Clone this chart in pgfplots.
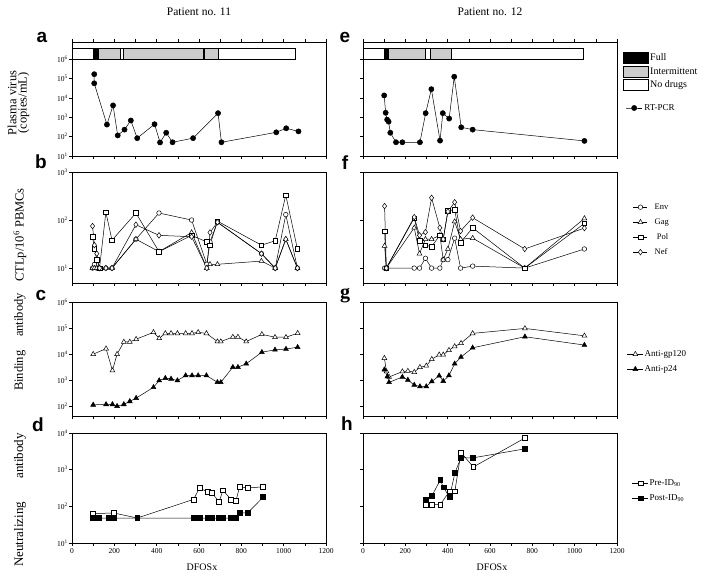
\documentclass[border=0pt]{standalone}
\usepackage{fontspec}
\setmainfont{Liberation Serif}
\newfontfamily\lettersf{Liberation Sans}
\usepackage{pgfplots}
\pgfplotsset{compat=1.18}
\pgfplotsset{
  mypanel/.style={scale only axis, width=254pt, xmin=0, xmax=1200,
    tick align=outside, xtick={0,100,...,1200}, xticklabels={}, xtick pos=bottom, ytick pos=left,
    yminorticks=false, xminorticks=false,
    axis line style={line width=0.6pt}, major tick length=3pt,
    every tick/.style={black, line width=0.5pt},
    yticklabel style={font=\fontsize{7.5}{8}\selectfont, inner sep=1pt},
    xticklabel style={font=\fontsize{7.5}{9}\selectfont, inner sep=2pt},
    clip=false, legend cell align=left,
  },
  myln/.style={color=black, line width=0.5pt},
  myenv/.style={myln, mark=*, mark size=2.3pt, mark options={fill=white, draw=black, line width=0.5pt}},
  mygag/.style={myln, mark=triangle*, mark size=2.8pt, mark options={fill=white, draw=black, line width=0.5pt}},
  mypol/.style={myln, mark=square*, mark size=2.3pt, mark options={fill=white, draw=black, line width=0.5pt}},
  mynef/.style={myln, mark=diamond*, mark size=2.8pt, mark options={fill=white, draw=black, line width=0.5pt}},
  myrt/.style={myln, mark=*, mark size=2.6pt, mark options={fill=black}},
  mygp/.style={myln, mark=triangle*, mark size=2.8pt, mark options={fill=white, draw=black, line width=0.5pt}},
  myp/.style={myln, mark=triangle*, mark size=2.8pt, mark options={fill=black}},
  mypre/.style={myln, mark=square*, mark size=2.4pt, mark options={fill=white, draw=black, line width=0.5pt}},
  mypost/.style={myln, mark=square*, mark size=2.4pt, mark options={fill=black}},
  myseg/.style={draw=black, line width=0.5pt, forget plot, mark=none},
}
\begin{document}
\begin{tikzpicture}[x=1pt,y=1pt]
\path[use as bounding box] (0,0) rectangle (707,585);

% titles and labels
\node[font=\fontsize{11.5}{13}\selectfont] at (199,573) {Patient no. 11};
\node[font=\fontsize{11.5}{13}\selectfont] at (490,573) {Patient no. 12};
\node[font=\fontsize{10}{12}\selectfont] at (202,18) {DFOSx};
\node[font=\fontsize{10}{12}\selectfont] at (492,18) {DFOSx};
\node[rotate=90, font=\fontsize{12.5}{14}\selectfont] at (12,482) {Plasma virus};
\node[rotate=90, font=\fontsize{12.5}{14}\selectfont] at (23.5,482) {(copies/mL)};
\node[rotate=90, font=\fontsize{12.5}{14}\selectfont] at (20,350) {CTLp/10\textsuperscript{6} PBMCs};
\node[rotate=90, font=\fontsize{12.5}{14}\selectfont] at (20,243) {Binding\hspace{1.1em}antibody};
\node[rotate=90, font=\fontsize{13}{14}\selectfont] at (20,85) {Neutralizing\hspace{1.8em}antibody};
\node[font=\lettersf\bfseries\fontsize{19}{19}\selectfont] at (42,548) {a};
\node[font=\lettersf\bfseries\fontsize{19}{19}\selectfont] at (41,423) {b};
\node[font=\lettersf\bfseries\fontsize{19}{19}\selectfont] at (41,290) {c};
\node[font=\lettersf\bfseries\fontsize{19}{19}\selectfont] at (38,160) {d};
\node[font=\lettersf\bfseries\fontsize{19}{19}\selectfont] at (345,548) {e};
\node[font=\lettersf\bfseries\fontsize{19}{19}\selectfont] at (345,422) {f};
\node[font=\bfseries\fontsize{20}{20}\selectfont] at (345,289) {g};
\node[font=\lettersf\bfseries\fontsize{19}{19}\selectfont] at (347,161) {h};

% ---------------- Panel a ----------------
\begin{axis}[mypanel, ymode=log, at={(72pt,429pt)}, anchor=south west, height=114pt,
  ymin=10, ymax=7.6e6, xtick pos=both,
  ytick={10,100,1000,10000,100000,1000000},
  yticklabels={10\textsuperscript{1},10\textsuperscript{2},10\textsuperscript{3},10\textsuperscript{4},10\textsuperscript{5},10\textsuperscript{6}},
  legend image code/.code={\draw[mark repeat=2,mark phase=2,#1] plot coordinates {(0pt,0pt) (8pt,0pt) (16pt,0pt)};},
  legend style={draw=none, fill=none, at={(2.18,0.421)}, anchor=west, inner sep=0pt,
    font=\fontsize{9}{10}\selectfont, nodes={inner sep=2pt}}]
\addplot[myseg, fill=white] coordinates {(0,1e6) (1057,1e6) (1057,3.7e6) (0,3.7e6) (0,1e6)};
\addplot[myseg, fill=black] coordinates {(101,1e6) (117,1e6) (117,3.7e6) (101,3.7e6) (101,1e6)};
\addplot[myseg, fill=gray!40] coordinates {(124,1e6) (226,1e6) (226,3.7e6) (124,3.7e6) (124,1e6)};
\addplot[myseg, fill=gray!40] coordinates {(242,1e6) (621,1e6) (621,3.7e6) (242,3.7e6) (242,1e6)};
\addplot[myseg, fill=gray!40] coordinates {(626,1e6) (692,1e6) (692,3.7e6) (626,3.7e6) (626,1e6)};
\addplot[myrt] coordinates {(105,166000) (105,56000) (165,417) (194,4070) (216,115) (248,229)
  (278,676) (308,83) (390,437) (416,50) (445,158) (475,51) (572,83) (690,1620) (706,51)
  (965,166) (1012,269) (1070,186)};
\addlegendentry{RT-PCR}
\end{axis}

% ---------------- Panel e ----------------
\begin{axis}[mypanel, ymode=log, at={(363pt,429pt)}, anchor=south west, height=114pt,
  ymin=10, ymax=7.6e6, xtick pos=both,
  ytick={10,100,1000,10000,100000,1000000}, yticklabels={},
  legend image code/.code={\draw[#1] (0pt,-5.5pt) rectangle (25pt,5.5pt);},
  legend style={draw=none, fill=none, at={(1.0236,0.912)}, anchor=north west, inner sep=0pt,
    font=\fontsize{10}{12}\selectfont, row sep=2pt, nodes={inner sep=1.5pt}}]
\addplot[myseg, fill=white] coordinates {(0,1e6) (1041,1e6) (1041,3.7e6) (0,3.7e6) (0,1e6)};
\addplot[myseg, fill=black] coordinates {(101,1e6) (120,1e6) (120,3.7e6) (101,3.7e6) (101,1e6)};
\addplot[myseg, fill=gray!40] coordinates {(120,1e6) (294,1e6) (294,3.7e6) (120,3.7e6) (120,1e6)};
\addplot[myseg, fill=gray!40] coordinates {(320,1e6) (417,1e6) (417,3.7e6) (320,3.7e6) (320,1e6)};
\addplot[myrt, forget plot] coordinates {(100,13300) (107,1700) (114,750) (121,590) (129,158)
  (156,51) (186,51) (269,51) (296,1620) (323,28000) (364,62) (377,1620) (407,850)
  (431,123000) (464,302) (518,229) (1046,60)};
\addlegendimage{draw=black, fill=black, line width=0.5pt}
\addlegendentry{Full}
\addlegendimage{draw=black, fill=gray!40, line width=0.5pt}
\addlegendentry{Intermittent}
\addlegendimage{draw=black, fill=white, line width=0.5pt}
\addlegendentry{No drugs}
\end{axis}

% ---------------- Panel b ----------------
\begin{axis}[mypanel, ymode=log, at={(72pt,302pt)}, anchor=south west, height=111pt,
  ymin=4.9, ymax=1000,
  ytick={10,100,1000},
  yticklabels={10\textsuperscript{1},10\textsuperscript{2},10\textsuperscript{3}}]
\addplot[myenv] coordinates {(97,10) (106,12) (117,10) (130,10) (160,10) (189,10) (302,40) (411,140)
  (565,100) (637,12) (652,35) (687,90) (895,20) (960,10) (1010,130) (1065,10)};
\addplot[mygag] coordinates {(97,10) (106,10) (117,10) (130,10) (160,10) (189,10) (302,40) (411,22)
  (565,55) (637,10) (652,12) (687,12) (895,14) (960,10) (1010,40) (1065,10)};
\addplot[mypol] coordinates {(97,45) (106,25) (117,15) (130,10) (160,145) (189,38) (302,140) (411,22)
  (565,48) (637,35) (652,30) (687,95) (895,30) (960,37) (1010,330) (1065,25)};
\addplot[mynef] coordinates {(97,75) (106,30) (117,20) (130,10) (160,10) (189,10) (302,80) (411,48)
  (565,45) (637,10) (652,55) (687,90) (895,20) (960,10) (1010,40) (1065,10)};
\end{axis}

% ---------------- Panel f ----------------
\begin{axis}[mypanel, ymode=log, at={(363pt,302pt)}, anchor=south west, height=111pt,
  ymin=4.9, ymax=1000, ytick={10,100,1000}, yticklabels={},
  legend image code/.code={\draw[mark repeat=2,mark phase=2,#1] plot coordinates {(0pt,0pt) (7pt,0pt) (14pt,0pt)};},
  legend style={draw=none, fill=none, at={(1.063,0.73)}, anchor=north west, inner sep=0pt,
    font=\fontsize{8.5}{10}\selectfont, row sep=5pt, nodes={inner sep=1pt, text height=6pt, text depth=2pt}}]
\addplot[myenv] coordinates {(102,10) (110,10) (242,10) (267,10) (295,16) (324,10) (363,10) (379,15)
  (401,15) (433,42) (461,10) (518,11) (764,10) (1046,25)};
\addlegendentry{\hspace{6pt}Env}
\addplot[mygag] coordinates {(102,29) (110,10) (242,69) (267,20) (295,40) (324,40) (363,48) (379,15)
  (401,25) (433,93) (461,40) (518,42) (764,10) (1046,108)};
\addlegendentry{\hspace{6pt}Gag}
\addplot[mypol] coordinates {(102,59) (110,10) (242,110) (267,37) (295,30) (324,28) (363,48) (379,40)
  (401,155) (433,165) (461,34) (518,69) (764,10) (1046,85)};
\addlegendentry{\hspace{6pt} Pol}
\addplot[mynef] coordinates {(102,195) (110,10) (242,115) (267,48) (295,56) (324,290) (363,69) (379,40)
  (401,150) (433,235) (461,59) (518,112) (764,25) (1046,68)};
\addlegendentry{\hspace{6pt}Nef}
\end{axis}

% ---------------- Panel c ----------------
\begin{axis}[mypanel, ymode=log, at={(72pt,169pt)}, anchor=south west, height=114pt,
  ymin=41, ymax=1e6,
  ytick={100,1000,10000,100000,1000000},
  yticklabels={10\textsuperscript{2},10\textsuperscript{3},10\textsuperscript{4},10\textsuperscript{5},10\textsuperscript{6}}]
\addplot[mygp] coordinates {(100,9800) (161,16000) (191,2300) (213,9800) (245,29000) (273,29000)
  (303,37000) (385,68000) (412,40000) (441,62000) (468,62000) (498,62000) (537,62000) (567,62000)
  (596,68000) (635,62000) (687,30000) (703,30000) (760,45000) (784,45000) (823,30000) (897,57000)
  (959,44000) (1011,44000) (1066,63000)};
\addplot[myp] coordinates {(100,110) (161,115) (191,115) (213,98) (245,115) (273,150) (303,200)
  (385,520) (412,950) (441,1170) (468,1100) (498,950) (537,1480) (567,1480) (596,1480) (635,1480)
  (687,810) (703,810) (760,3100) (784,3100) (823,4200) (897,11700) (959,14400) (1011,15500) (1066,18200)};
\end{axis}

% ---------------- Panel g ----------------
\begin{axis}[mypanel, ymode=log, at={(363pt,169pt)}, anchor=south west, height=114pt,
  ymin=41, ymax=1e6, ytick={100,1000,10000,100000,1000000}, yticklabels={},
  legend image code/.code={\draw[mark repeat=2,mark phase=2,#1] plot coordinates {(0pt,0pt) (8pt,0pt) (16pt,0pt)};},
  legend style={draw=none, fill=none, at={(1.039,0.588)}, anchor=north west, inner sep=0pt,
    font=\fontsize{9}{10}\selectfont, row sep=5pt, nodes={inner sep=1pt, text height=6pt, text depth=2pt}}]
\addplot[mygp] coordinates {(101,6900) (111,2100) (123,1300) (186,2100) (212,2200) (242,2000)
  (269,3100) (299,3500) (325,6300) (360,9300) (379,9300) (406,14000) (433,19500) (463,26000)
  (518,62000) (765,96000) (1046,50000)};
\addlegendentry{Anti-gp120}
\addplot[myp] coordinates {(101,2500) (115,1350) (123,810) (186,1300) (212,1000) (242,640)
  (269,560) (299,560) (325,870) (360,1450) (379,900) (406,1480) (433,4200) (463,7600)
  (518,17300) (765,46000) (1046,22000)};
\addlegendentry{Anti-p24}
\end{axis}

% ---------------- Panel d ----------------
\begin{axis}[mypanel, ymode=log, at={(72pt,42pt)}, anchor=south west, height=110pt,
  ymin=10, ymax=10000,
  ytick={10,100,1000,10000},
  yticklabels={10\textsuperscript{1},10\textsuperscript{2},10\textsuperscript{3},10\textsuperscript{4}},
  xticklabels={0,,200,,400,,600,,800,,1000,,1200}]
\addplot[mypre] coordinates {(98,63) (197,66) (308,48) (575,155) (602,316) (643,245) (662,230)
  (695,132) (713,275) (751,155) (775,145) (792,340) (830,316) (903,340)};
\addplot[mypost] coordinates {(98,48) (127,48) (171,48) (197,48) (308,48) (575,48) (602,48) (643,48)
  (662,48) (695,48) (713,48) (751,48) (775,48) (792,66) (830,66) (903,178)};
\end{axis}

% ---------------- Panel h ----------------
\begin{axis}[mypanel, ymode=log, at={(363pt,42pt)}, anchor=south west, height=110pt,
  ymin=10, ymax=10000, ytick={10,100,1000,10000}, yticklabels={},
  xticklabels={0,,200,,400,,600,,800,,1000,,1200},
  legend image code/.code={\draw[mark repeat=2,mark phase=2,#1] plot coordinates {(0pt,0pt) (8pt,0pt) (16pt,0pt)};},
  legend style={draw=none, fill=none, at={(1.059,0.59)}, anchor=north west, inner sep=0pt,
    font=\fontsize{9}{10}\selectfont, row sep=5pt, nodes={inner sep=1pt, text height=6pt, text depth=2pt}}]
\addplot[mypre] coordinates {(298,112) (326,112) (365,112) (409,258) (434,258) (463,2950) (521,1180) (765,7300)};
\addlegendentry{Pre-ID\textsubscript{90}}
\addplot[mypost] coordinates {(298,152) (326,195) (365,525) (380,330) (409,178) (434,810) (463,2130) (518,2090) (765,3700)};
\addlegendentry{Post-ID\textsubscript{90}}
\end{axis}
\end{tikzpicture}
\end{document}
